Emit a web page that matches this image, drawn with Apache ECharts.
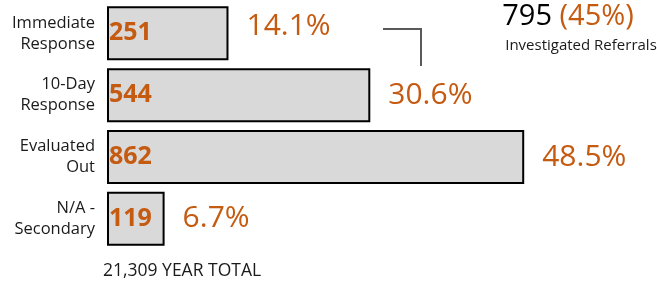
<!DOCTYPE html>
<html>
<head>
<meta charset="utf-8">
<script src="https://cdn.jsdelivr.net/npm/echarts@6/dist/echarts.min.js"></script>
<style>
    html, body { margin: 0; padding: 0; background: #fff; }
    #main { width: 657px; height: 286px; }
</style>
</head>
<body>
<div id="main"></div>
<script>
    var categories = ['Immediate\nResponse', '10-Day\nResponse', 'Evaluated\nOut', 'N/A -\nSecondary'];
    var counts = [251, 544, 862, 119];
    var shares = ['14.1%', '30.6%', '48.5%', '6.7%'];
    var investigatedCount = '795';
    var investigatedShare = '(45%)';
    var yearTotal = '21,309 YEAR TOTAL';

    var orange = '#C55A11';
    var font = '"Open Sans", "Noto Sans", sans-serif';

    var myChart = echarts.init(document.getElementById('main'));

    // share labels: the first one sits a bit higher, next to the bracket
    var shareData = counts.map(function (v, i) {
        var item = { value: v };
        if (i === 0) {
            item.label = { offset: [0, -7] };
        }
        return item;
    });

    var option = {
        animation: false,
        textStyle: { fontFamily: font },
        grid: {
            left: 107,
            right: 66,
            top: 2.4,
            bottom: 36.3,
            containLabel: false
        },
        xAxis: {
            type: 'value',
            min: 0,
            max: 1000,
            show: false
        },
        yAxis: {
            type: 'category',
            inverse: true,
            data: categories,
            axisLine: { show: false },
            axisTick: { show: false },
            axisLabel: {
                margin: 12,
                color: '#1a1a1a',
                fontSize: 16.5,
                lineHeight: 21,
                align: 'right',
                fontFamily: font
            }
        },
        series: [{
            type: 'bar',
            data: counts,
            barWidth: 54,
            itemStyle: {
                color: '#D9D9D9',
                borderColor: '#000',
                borderWidth: 2
            },
            label: {
                show: true,
                position: 'insideLeft',
                distance: 2,
                color: orange,
                fontWeight: 'bold',
                fontSize: 25,
                fontFamily: font
            }
        }, {
            type: 'bar',
            data: shareData,
            barWidth: 54,
            barGap: '-100%',
            silent: true,
            itemStyle: { color: 'transparent', borderWidth: 0 },
            label: {
                show: true,
                position: 'right',
                distance: 18,
                color: orange,
                fontSize: 30,
                fontFamily: font,
                formatter: function (p) {
                    return shares[p.dataIndex];
                }
            }
        }],
        graphic: [{
            type: 'polyline',
            shape: { points: [[383, 29], [421, 29], [421, 66]] },
            style: { stroke: '#595959', lineWidth: 2, fill: null }
        }, {
            type: 'text',
            x: 568,
            y: 17,
            style: {
                text: '{n|' + investigatedCount + '}{p| ' + investigatedShare + '}',
                align: 'center',
                verticalAlign: 'middle',
                rich: {
                    n: { fontSize: 29, fontFamily: font, fill: '#000' },
                    p: { fontSize: 29, fontFamily: font, fill: orange }
                }
            }
        }, {
            type: 'text',
            x: 581,
            y: 46,
            style: {
                text: 'Investigated Referrals',
                align: 'center',
                verticalAlign: 'middle',
                fontSize: 15,
                fontFamily: font,
                fill: '#1a1a1a'
            }
        }, {
            type: 'text',
            x: 103,
            y: 271,
            style: {
                text: yearTotal,
                align: 'left',
                verticalAlign: 'middle',
                fontSize: 17.5,
                fontFamily: font,
                fill: '#1a1a1a'
            }
        }]
    };

    myChart.setOption(option);
</script>
</body>
</html>
